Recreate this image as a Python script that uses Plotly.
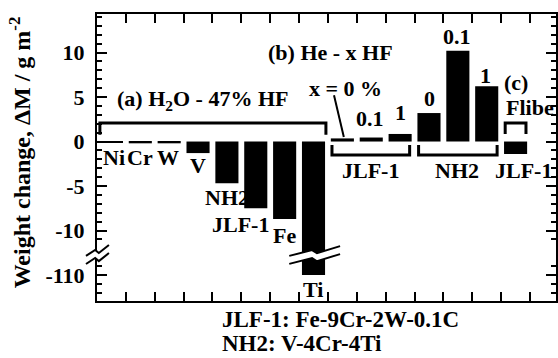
import plotly.graph_objects as go

# ---------------- data ----------------
categories = ["Ni", "Cr", "W", "V", "NH2", "JLF-1", "Fe", "Ti",
              "JLF-1 (He-0%HF)", "JLF-1 (He-0.1%HF)", "JLF-1 (He-1%HF)",
              "NH2 (He-0%HF)", "NH2 (He-0.1%HF)", "NH2 (He-1%HF)",
              "JLF-1 (Flibe)"]
weight_change = [-0.1, -0.2, -0.2, -1.3, -4.7, -7.5, -8.7, -110,
                 0.35, 0.45, 0.85, 3.2, 10.2, 6.2, -1.4]
y_tick_values = [10, 5, 0, -5, -10, -110]
y_tick_labels = ["10", "5", "0", "-5", "-10", "-110"]

bar_labels_a = ["Ni", "Cr", "W", "V", "NH2", "JLF-1", "Fe", "Ti"]
hf_conc_labels = ["0.1", "1", "0", "0.1", "1"]

BREAK_OFFSET = 95  # values beyond the axis break are shifted by this amount


def to_axis(v):
    return v + BREAK_OFFSET if v < -12 else v


x_pos = list(range(len(categories)))
y_disp = [to_axis(v) for v in weight_change]

FONT = "Liberation Serif, Times New Roman, serif"

fig = go.Figure()
fig.add_trace(go.Bar(
    x=x_pos, y=y_disp, width=0.8,
    marker=dict(color="black", line=dict(width=0)),
    customdata=weight_change, hovertext=categories,
    hovertemplate="%{hovertext}: %{customdata}<extra></extra>",
))

# --------------- decorations ---------------
shapes = []
line_style = dict(color="black", width=3)
# (a) bracket
shapes.append(dict(type="path", xref="x", yref="y",
                   path="M -0.40,0.75 L -0.40,2.08 L 7.43,2.08 L 7.43,0.75",
                   line=line_style))
# (b) brackets
shapes.append(dict(type="path", xref="x", yref="y",
                   path="M 7.64,-0.40 L 7.64,-1.52 L 10.33,-1.52 L 10.33,-0.40",
                   line=line_style))
shapes.append(dict(type="path", xref="x", yref="y",
                   path="M 10.64,-0.40 L 10.64,-1.52 L 13.36,-1.52 L 13.36,-0.40",
                   line=line_style))
# (c) bracket
shapes.append(dict(type="path", xref="x", yref="y",
                   path="M 13.64,0.84 L 13.64,2.08 L 14.36,2.08 L 14.36,0.84",
                   line=line_style))
# pointer for "x = 0 %"
shapes.append(dict(type="line", xref="x", yref="y", x0=7.71, y0=5.2, x1=8.05, y1=0.5,
                   line=dict(color="black", width=2)))


def zigzag(xs, ys):
    return " ".join(("M" if i == 0 else "L") + f" {x:.3f},{y:.3f}" for i, (x, y) in enumerate(zip(xs, ys)))


# break on the Ti bar (data coordinates)
bx = [6.16, 6.95, 7.12, 7.92]
by_up = [-12.85, -12.2, -12.55, -11.75]
gap = 0.9
by_lo = [v - gap for v in by_up]
poly = zigzag(bx + bx[::-1], by_up + by_lo[::-1]) + " Z"
shapes.append(dict(type="path", xref="x", yref="y", path=poly,
                   fillcolor="white", line=dict(width=0), layer="above"))
shapes.append(dict(type="path", xref="x", yref="y", path=zigzag(bx, by_up),
                   line=dict(color="black", width=2), layer="above"))
shapes.append(dict(type="path", xref="x", yref="y", path=zigzag(bx, by_lo),
                   line=dict(color="black", width=2), layer="above"))

# break on the y axis (paper coordinates)
PW, PH, L0, B0 = 461.0, 287.0, 97.0, 301.0


def px2paper(px, py):
    return (px - L0) / PW, (B0 - py) / PH


ax_px = [86, 95, 99, 109]
ay_up = [256, 250, 253, 245]
ay_lo = [v + 8 for v in ay_up]
up = [px2paper(a, b) for a, b in zip(ax_px, ay_up)]
lo = [px2paper(a, b) for a, b in zip(ax_px, ay_lo)]
poly2 = zigzag([p[0] for p in up] + [p[0] for p in lo[::-1]],
               [p[1] for p in up] + [p[1] for p in lo[::-1]]) + " Z"
shapes.append(dict(type="path", xref="paper", yref="paper", path=poly2,
                   fillcolor="white", line=dict(width=0), layer="above"))
shapes.append(dict(type="path", xref="paper", yref="paper",
                   path=zigzag([p[0] for p in up], [p[1] for p in up]),
                   line=dict(color="black", width=2), layer="above"))
shapes.append(dict(type="path", xref="paper", yref="paper",
                   path=zigzag([p[0] for p in lo], [p[1] for p in lo]),
                   line=dict(color="black", width=2), layer="above"))

# --------------- annotations ---------------
ann = []


def txt(text, x, y, xanchor="center", size=22, xref="x", yref="y", **kw):
    ann.append(dict(text=text, x=x, y=y, xref=xref, yref=yref, xanchor=xanchor,
                    yanchor="middle", showarrow=False, borderpad=0,
                    font=dict(family=FONT, size=size, color="black", weight="bold"), **kw))


# (a) labels
txt(bar_labels_a[0], 0.1, -1.85)
txt(bar_labels_a[1], 1.0, -1.85)
txt(bar_labels_a[2], 1.95, -1.85)
txt(bar_labels_a[3], 3.0, -2.7)
txt(bar_labels_a[4], 4.0, -6.3)
txt(bar_labels_a[5], 4.47, -9.3)
txt(bar_labels_a[6], 6.0, -10.6)
txt(bar_labels_a[7], 6.98, -16.6)
txt("(a) H<sub>2</sub>O - 47% HF", 3.14, 4.66)
# (b) labels
txt("(b) He - x HF", 7.6, 10.0)
txt("x = 0 %", 8.12, 5.96)
txt(hf_conc_labels[0], 8.95, 2.58)
txt(hf_conc_labels[1], 10.02, 3.26)
txt(hf_conc_labels[2], 11.02, 4.83)
txt(hf_conc_labels[3], 11.98, 11.85)
txt(hf_conc_labels[4], 12.95, 7.47)
txt("JLF-1", 8.98, -3.2)
txt("NH2", 11.98, -3.2)
# (c) labels
txt("(c)", 14.03, 6.63)
txt("Flibe", 13.62, 3.82, xanchor="left")
txt("JLF-1", 13.26, -3.2, xanchor="left")
# bottom legend text
txt("JLF-1: Fe-9Cr-2W-0.1C", (222 - L0) / PW, (B0 - 319) / PH, xanchor="left",
    xref="paper", yref="paper", size=23)
txt("NH2: V-4Cr-4Ti", (222 - L0) / PW, (B0 - 344) / PH, xanchor="left",
    xref="paper", yref="paper", size=23)
# y title
txt("Weight change, ΔM / g m<sup>-2</sup>", (20 - L0) / PW, (B0 - 152) / PH,
    size=24, xref="paper", yref="paper", textangle=-90)

major_disp = [to_axis(v) for v in y_tick_values]
minor_vals = [v for v in range(-17, 15) if v not in major_disp and v not in (-12, -13)]

fig.update_layout(
    width=558, height=358,
    margin=dict(l=97, r=0, t=14, b=57, pad=0),
    paper_bgcolor="white", plot_bgcolor="white",
    font=dict(family=FONT, size=22, color="black", weight="bold"),
    showlegend=False,
    shapes=shapes, annotations=ann,
    xaxis=dict(range=[-0.5, 15.4], showline=True, linewidth=2, linecolor="black",
               mirror="allticks", ticks="inside", ticklen=9, tickwidth=1.5,
               tickcolor="black", tickvals=[k + 0.5 for k in range(len(categories))],
               showticklabels=False, showgrid=False, zeroline=False, fixedrange=True),
    yaxis=dict(range=[-17.92, 14.33], showline=True, linewidth=2, linecolor="black",
               mirror="allticks", ticks="inside", ticklen=10, tickwidth=2,
               tickcolor="black", tickvals=major_disp, ticktext=y_tick_labels,
               tickfont=dict(family=FONT, size=22, color="black", weight="bold"),
               ticklabelstandoff=6,
               minor=dict(tickvals=minor_vals, ticks="inside", ticklen=5, tickwidth=1.5,
                          tickcolor="black", showgrid=False),
               showgrid=False, zeroline=False, fixedrange=True),
)

fig.write_html("out.html", config={"displayModeBar": False},
               post_script="document.body.style.margin='0';")
